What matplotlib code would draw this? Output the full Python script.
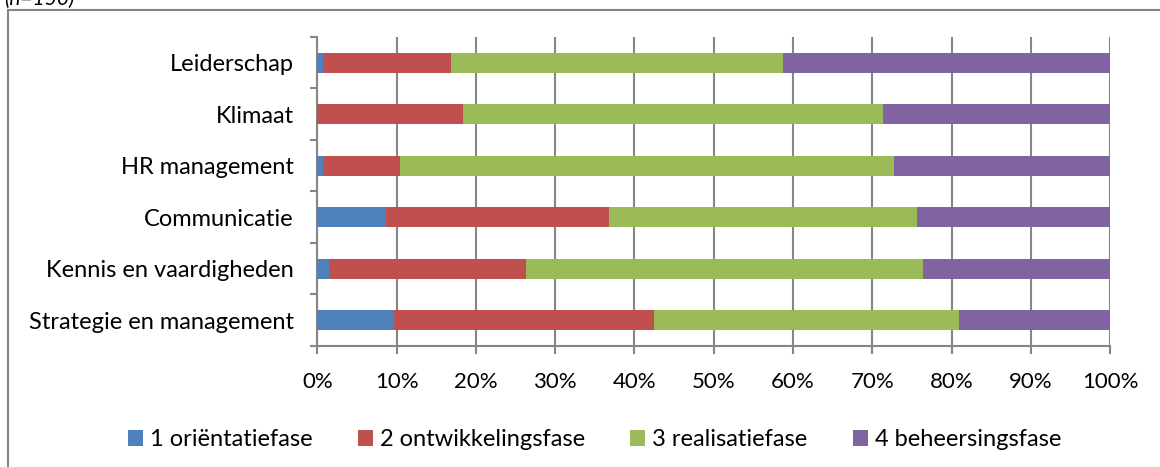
import matplotlib.pyplot as plt
from matplotlib.lines import Line2D
from matplotlib.patches import Patch
import numpy as np

# Categories (bottom to top).
categories = [
    "Strategie en management",
    "Kennis en vaardigheden",
    "Communicatie",
    "HR management",
    "Klimaat",
    "Leiderschap",
]

# Share per phase (%), same order as categories.
fase1 = [9.7, 1.5, 8.7, 0.7, 0.0, 0.7]
fase2 = [32.8, 24.8, 28.1, 9.7, 18.4, 16.2]
fase3 = [38.4, 50.1, 38.8, 62.3, 52.9, 41.8]
fase4 = [19.1, 23.6, 24.4, 27.3, 28.7, 41.3]

series_labels = ["1 oriëntatiefase", "2 ontwikkelingsfase",
                 "3 realisatiefase", "4 beheersingsfase"]
colors = ["#4F81BD", "#C0504D", "#9BBB59", "#8064A2"]
xtick_labels = [f"{v}%" for v in range(0, 101, 10)]

plt.rcParams["font.family"] = ["Lato", "DejaVu Sans"]
grey = "#868686"

fig = plt.figure(figsize=(11.6, 4.67), dpi=100)
ax = fig.add_axes([0.2737, 0.2591, 0.9569 - 0.2737, 0.9208 - 0.2591])

y = np.arange(len(categories))
left = np.zeros(len(categories))
for vals, col, lab in zip([fase1, fase2, fase3, fase4], colors, series_labels):
    ax.barh(y, vals, left=left, height=0.39, color=col, label=lab, zorder=3)
    left += np.array(vals)

ax.set_xlim(0, 100)
ax.set_ylim(-0.5, len(categories) - 0.5)

# Axis and grid.
ax.set_xticks(range(0, 101, 10))
ax.set_xticklabels(xtick_labels, fontsize=16)
ax.set_yticks(y)
ax.set_yticklabels(categories, fontsize=17)
ax.set_yticks(np.arange(-0.5, len(categories), 1), minor=True)
ax.tick_params(axis="y", which="major", length=0, pad=17)
ax.tick_params(axis="y", which="minor", length=5, width=1.5, color=grey)
ax.tick_params(axis="x", length=6, width=1.5, color=grey, pad=13)
ax.grid(axis="x", color=grey, linewidth=1.5, zorder=0)
for side in ["top", "right"]:
    ax.spines[side].set_visible(False)
for side in ["left", "bottom"]:
    ax.spines[side].set_color(grey)
    ax.spines[side].set_linewidth(1.5)

# Legend.
handles = [Patch(facecolor=c, label=l) for c, l in zip(colors, series_labels)]
fig.legend(handles=handles, loc="center", bbox_to_anchor=(594.5 / 1160, 1 - 440 / 467),
           ncol=4, frameon=False, fontsize=17, handlelength=0.65,
           handleheight=0.65, handletextpad=0.3, columnspacing=1.9)

# Outer frame and clipped caption.
fig.add_artist(Line2D([8 / 1160, 8 / 1160], [0, 1 - 10 / 467], color=grey, lw=1.5))
fig.add_artist(Line2D([8 / 1160, 1], [1 - 10 / 467, 1 - 10 / 467], color=grey, lw=1.5))
fig.text(4 / 1160, 1.003, "(n=150)", fontsize=15, style="italic", va="center")

fig.savefig("out.png", dpi=100)
